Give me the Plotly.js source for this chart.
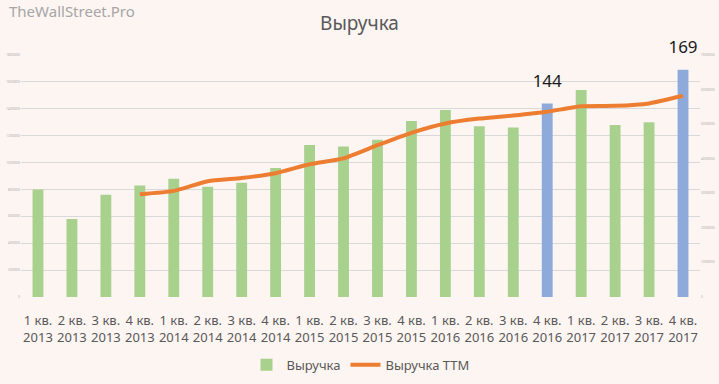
<!DOCTYPE html>
<html><head><meta charset="utf-8">
<script src="https://cdn.plot.ly/plotly-3.0.1.min.js"></script>
<style>html,body{margin:0;padding:0;background:#fdf5f2;}</style>
</head><body>
<div id="chart" style="width:719px;height:384px;"></div>
<script>
const quarters = ["1 кв.<br>2013","2 кв.<br>2013","3 кв.<br>2013","4 кв.<br>2013",
  "1 кв.<br>2014","2 кв.<br>2014","3 кв.<br>2014","4 кв.<br>2014",
  "1 кв.<br>2015","2 кв.<br>2015","3 кв.<br>2015","4 кв.<br>2015",
  "1 кв.<br>2016","2 кв.<br>2016","3 кв.<br>2016","4 кв.<br>2016",
  "1 кв.<br>2017","2 кв.<br>2017","3 кв.<br>2017","4 кв.<br>2017"];
const revenue = [80,58,76,83,88,82,85,96,113,112,117,131,139,127,126,144,154,128,130,169];
const revenueTTM = [null,null,null,297,307,335,344,358,384,401,439,475,502,516,525,536,552,553,560,582];
const labelQuarters = ["4 кв.<br>2016","4 кв.<br>2017"];
const labelValues = [144,169];
const highlighted = [15,19];
const leftTicks = [0,20,40,60,80,100,120,140,160,180];
const rightTicks = [0,100,200,300,400,500,600,700];

const barColors = revenue.map((v,i)=> highlighted.includes(i) ? '#8eaadb' : '#a9d18e');
const FONT = 'Noto Sans, sans-serif';

const data = [
  {type:'bar', x:quarters, y:revenue, name:'Выручка', marker:{color:barColors}, hoverinfo:'none'},
  {type:'scatter', mode:'lines', x:quarters, y:revenueTTM, name:'Выручка TTM', yaxis:'y2',
   line:{color:'#ed7d31', width:4, shape:'spline', smoothing:0.5}, connectgaps:false},
  {type:'scatter', mode:'markers+text', x:labelQuarters, y:labelValues, text:labelValues.map(String),
   textposition:'top center', marker:{size:18, color:'rgba(0,0,0,0)'}, showlegend:false,
   textfont:{size:17, color:'#1a1a1a', family:FONT}, cliponaxis:false, hoverinfo:'none'}
];
const layout = {
  width:719, height:384,
  paper_bgcolor:'#fdf5f2', plot_bgcolor:'#fdf5f2',
  margin:{l:21, r:19, t:55, b:87, autoexpand:false},
  font:{family:FONT, color:'#595959'},
  title:{text:'Выручка', font:{size:19, color:'#595959', family:FONT}, x:0.5, xanchor:'center', y:0.94, yanchor:'middle'},
  bargap:0.68,
  showlegend:true,
  legend:{orientation:'h', x:0.5, xanchor:'center', yref:'container', y:0.05, yanchor:'middle',
    font:{size:13, color:'#595959'}, bgcolor:'rgba(0,0,0,0)', traceorder:'normal'},
  xaxis:{type:'category', range:[-0.5,19.5], autorange:false, tickfont:{size:13, color:'#595959'}, showgrid:false,
    showline:false, ticks:'outside', ticklen:11, tickcolor:'rgba(0,0,0,0)', tickangle:0, fixedrange:true},
  yaxis:{range:[0,180], autorange:false, tickvals:leftTicks, ticktext:leftTicks.map(v=>v===0?'0':v*100000+''),
    tickfont:{size:3, color:'#aaa'}, gridcolor:'#d9d9d9', gridwidth:1, zeroline:false,
    showline:false, ticks:''},
  yaxis2:{overlaying:'y', side:'right', range:[0,700], autorange:false, tickvals:rightTicks,
    ticktext:rightTicks.map(v=>v===0?'0':v*100000+''),
    tickfont:{size:3, color:'#aaa'}, showgrid:false, zeroline:false, showline:false, ticks:''},
  annotations:[{text:'TheWallStreet.Pro', xref:'paper', yref:'paper', x:-0.02, y:1.183,
    xanchor:'left', yanchor:'middle', showarrow:false, font:{size:15, color:'#a6a6a6', family:FONT}}]
};
Plotly.newPlot('chart', data, layout, {staticPlot:true, displayModeBar:false});
</script>
</body></html>
